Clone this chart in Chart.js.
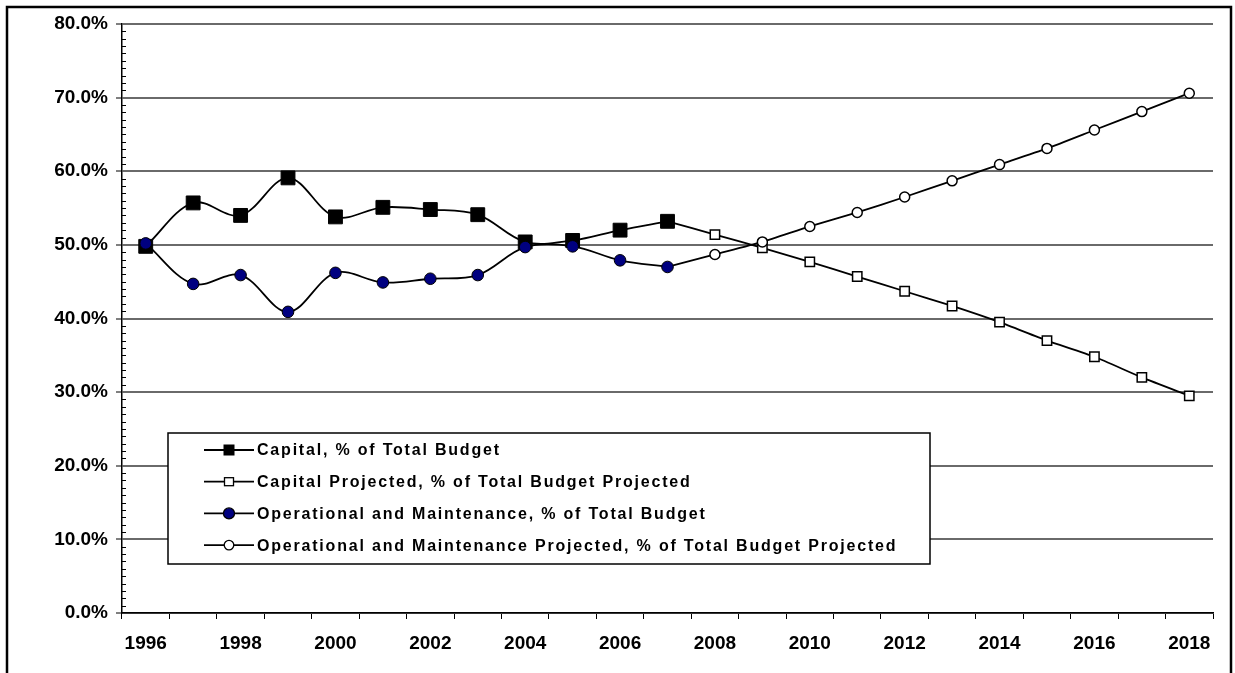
<!DOCTYPE html>
<html>
<head>
<meta charset="utf-8">
<title>Capital vs O&amp;M share of budget</title>
<script src="https://cdn.jsdelivr.net/npm/chart.js@4/dist/chart.umd.min.js"></script>
<style>
  html, body { margin: 0; padding: 0; background: #fff; }
  #wrap { position: relative; width: 1235px; height: 673px; }
</style>
</head>
<body>
<div id="wrap"><canvas id="budgetChart"></canvas></div>
<script>
const years = ["1996", "1997", "1998", "1999", "2000", "2001", "2002", "2003", "2004", "2005", "2006", "2007",
  "2008", "2009", "2010", "2011", "2012", "2013", "2014", "2015", "2016", "2017", "2018"];

// actuals run 1996-2007, projections pick up from the 2007 value
const capital = [49.8, 55.7, 54.0, 59.1, 53.8, 55.1, 54.8, 54.1, 50.4, 50.6, 52.0, 53.2,
  null, null, null, null, null, null, null, null, null, null, null];
const capitalProjected = [null, null, null, null, null, null, null, null, null, null, null, 53.2,
  51.4, 49.6, 47.7, 45.7, 43.7, 41.7, 39.5, 37.0, 34.8, 32.0, 29.5];
const operational = [50.2, 44.7, 45.9, 40.9, 46.2, 44.9, 45.4, 45.9, 49.7, 49.8, 47.9, 47.0,
  null, null, null, null, null, null, null, null, null, null, null];
const operationalProjected = [null, null, null, null, null, null, null, null, null, null, null, 47.0,
  48.7, 50.4, 52.5, 54.4, 56.5, 58.7, 60.9, 63.1, 65.6, 68.1, 70.6];

const seriesNames = [
  "Capital, % of Total Budget",
  "Capital Projected, % of Total Budget Projected",
  "Operational and Maintenance, % of Total Budget",
  "Operational and Maintenance Projected, % of Total Budget Projected",
];

const FONT = "'Liberation Sans', Arial, sans-serif";

// hide the projected marker on the joining year so only the real one shows
const skipJoin = (r) => (ctx) => (ctx.dataIndex === 11 ? 0 : r);

// small inward ticks every 1% on the value axis
const minorTicks = {
  id: "minorTicks",
  afterDraw(chart) {
    const y = chart.scales.y;
    const ctx = chart.ctx;
    const x0 = chart.chartArea.left;
    ctx.save();
    ctx.strokeStyle = "#000";
    ctx.lineWidth = 1;
    for (let v = 1; v < 80; v++) {
      if (v % 10 === 0) continue;
      const py = Math.round(y.getPixelForValue(v)) + 0.5;
      ctx.beginPath();
      ctx.moveTo(x0, py);
      ctx.lineTo(x0 + 4, py);
      ctx.stroke();
    }
    ctx.restore();
  },
};

function drawMarker(ctx, style, x, y) {
  ctx.save();
  ctx.lineWidth = 1.3;
  ctx.strokeStyle = "#000";
  if (style === "filledSquare") {
    ctx.fillStyle = "#000";
    ctx.fillRect(x - 5.5, y - 5.5, 11, 11);
  } else if (style === "openSquare") {
    ctx.fillStyle = "#fff";
    ctx.fillRect(x - 4.5, y - 4, 9, 8);
    ctx.strokeRect(x - 4.5, y - 4, 9, 8);
  } else {
    ctx.beginPath();
    ctx.arc(x, y, style === "filledCircle" ? 5.5 : 4.8, 0, Math.PI * 2);
    ctx.fillStyle = style === "filledCircle" ? "#000080" : "#fff";
    ctx.fill();
    ctx.stroke();
  }
  ctx.restore();
}

// boxed legend sitting inside the plot, plus the outer frame
const boxLegend = {
  id: "boxLegend",
  afterDraw(chart) {
    const { ctx, chartArea } = chart;
    const bx = chartArea.left + 46;
    const by = chartArea.top + 409;
    const bw = 762;
    const bh = 131;
    const styles = ["filledSquare", "openSquare", "filledCircle", "openCircle"];

    ctx.save();
    ctx.fillStyle = "#fff";
    ctx.fillRect(bx, by, bw, bh);
    ctx.strokeStyle = "#000";
    ctx.lineWidth = 1.5;
    ctx.strokeRect(bx, by, bw, bh);

    ctx.font = `bold 16px ${FONT}`;
    ctx.letterSpacing = "1.8px";
    ctx.textBaseline = "middle";
    ctx.fillStyle = "#000";
    seriesNames.forEach((name, i) => {
      const ry = by + 17 + i * 31.7;
      ctx.beginPath();
      ctx.lineWidth = 1.8;
      ctx.moveTo(bx + 36, ry);
      ctx.lineTo(bx + 86, ry);
      ctx.stroke();
      drawMarker(ctx, styles[i], bx + 61, ry);
      ctx.fillText(name, bx + 89, ry + 1);
    });
    ctx.restore();

    // outer frame of the whole figure
    ctx.save();
    ctx.strokeStyle = "#000";
    ctx.lineWidth = 2.5;
    ctx.strokeRect(7, 7, 1224, 700);
    ctx.restore();
  },
};

const canvas = document.getElementById("budgetChart");
new Chart(canvas, {
  type: "line",
  data: {
    labels: years,
    datasets: [
      {
        label: seriesNames[0],
        data: capital,
        borderColor: "#000",
        borderWidth: 1.8,
        tension: 0.35,
        pointStyle: "rect",
        pointRadius: 9.8,
        pointBackgroundColor: "#000",
        pointBorderColor: "#000",
        pointBorderWidth: 1,
        order: 2,
      },
      {
        label: seriesNames[1],
        data: capitalProjected,
        borderColor: "#000",
        borderWidth: 1.8,
        tension: 0.2,
        pointStyle: "rect",
        pointRadius: skipJoin(6.6),
        pointBackgroundColor: "#fff",
        pointBorderColor: "#000",
        pointBorderWidth: 1.5,
        order: 3,
      },
      {
        label: seriesNames[2],
        data: operational,
        borderColor: "#000",
        borderWidth: 1.8,
        tension: 0.35,
        pointStyle: "circle",
        pointRadius: 5.8,
        pointBackgroundColor: "#000080",
        pointBorderColor: "#000",
        pointBorderWidth: 1,
        order: 0,
      },
      {
        label: seriesNames[3],
        data: operationalProjected,
        borderColor: "#000",
        borderWidth: 1.8,
        tension: 0.2,
        pointStyle: "circle",
        pointRadius: skipJoin(5),
        pointBackgroundColor: "#fff",
        pointBorderColor: "#000",
        pointBorderWidth: 1.5,
        order: 1,
      },
    ],
  },
  options: {
    responsive: true,
    maintainAspectRatio: false,
    animation: false,
    layout: { padding: { left: 0, top: 24, right: 22, bottom: 0 } },
    plugins: {
      legend: { display: false },
      tooltip: { enabled: false },
    },
    scales: {
      x: {
        type: "category",
        offset: true,
        grid: {
          offset: true,
          drawOnChartArea: false,
          color: "#000",
          tickLength: 6,
        },
        border: { color: "#000", width: 1.5 },
        ticks: {
          autoSkip: false,
          maxRotation: 0,
          minRotation: 0,
          padding: 13,
          color: "#000",
          font: { family: FONT, size: 19, weight: "bold" },
          callback: (val, i) => (i % 2 === 0 ? years[i] : ""),
        },
        afterFit: (scale) => { scale.height = 60; },
      },
      y: {
        min: 0,
        max: 80,
        ticks: {
          stepSize: 10,
          padding: 8,
          color: "#000",
          font: { family: FONT, size: 19, weight: "bold" },
          callback: (v) => `${v.toFixed(1)}%`,
        },
        grid: {
          color: "#6a6a6a",
          lineWidth: 2,
          tickLength: 6,
          tickColor: "#000",
          tickWidth: 1,
        },
        border: { color: "#000", width: 1.5 },
        afterFit: (scale) => { scale.width = 122; },
      },
    },
  },
  plugins: [minorTicks, boxLegend],
});
</script>
</body>
</html>
